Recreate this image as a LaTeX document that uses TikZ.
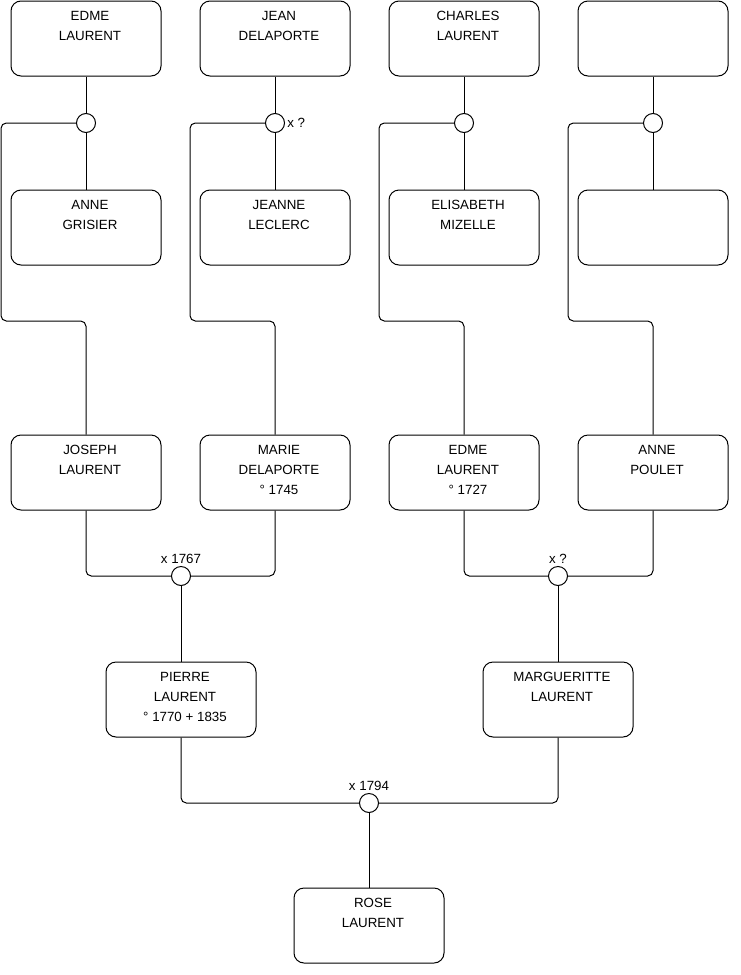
\documentclass[tikz,border=0pt]{standalone}
\usepackage{fontspec}
\setmainfont{Liberation Sans}

\tikzset{
  person/.style={draw, rounded corners=7.5pt, inner sep=0pt, line width=0.75pt},
  wed/.style={draw, circle, fill=white, minimum size=14.25pt, inner sep=0pt, line width=0.75pt},
  link/.style={line width=0.75pt, rounded corners=4pt},
  note/.style={font=\fontsize{10}{11}\selectfont, inner sep=1.5pt}
}
\newcommand{\who}[1]{\hspace*{6pt}\parbox[c][56.25pt][t]{106.5pt}{\centering\fontsize{10}{15}\selectfont\rule{0pt}{14.8pt}#1}}

\begin{document}
\begin{tikzpicture}[x=0.75pt,y=-0.75pt]
\useasboundingbox (0,0) rectangle (740,975);

% =========================
% great-grandparents
% =========================
\node[person] (edme)    at (86,38.5)  {\who{EDME\\LAURENT}};
\node[person] (jean)    at (275,38.5) {\who{JEAN\\DELAPORTE}};
\node[person] (charles) at (464,38.5) {\who{CHARLES\\LAURENT}};
\node[person] (blanka)  at (653,38.5) {\who{}};

\node[person] (anneg)   at (86,227.5)  {\who{ANNE\\GRISIER}};
\node[person] (jeanne)  at (275,227.5) {\who{JEANNE\\LECLERC}};
\node[person] (elisa)   at (464,227.5) {\who{ELISABETH\\MIZELLE}};
\node[person] (blankb)  at (653,227.5) {\who{}};

% weddings
\node[wed] (w1) at (86,123) {};
\node[wed, label={[note]right:x ?}] (w2) at (275,123) {};
\node[wed] (w3) at (464,123) {};
\node[wed] (w4) at (653,123) {};

\draw[link] (edme.south) -- (w1.north);
\draw[link] (w1.south) -- (anneg.north);
\draw[link] (jean.south) -- (w2.north);
\draw[link] (w2.south) -- (jeanne.north);
\draw[link] (charles.south) -- (w3.north);
\draw[link] (w3.south) -- (elisa.north);
\draw[link] (blanka.south) -- (w4.north);
\draw[link] (w4.south) -- (blankb.north);

% =========================
% grandparents
% =========================
\node[person] (joseph) at (86,472.5)  {\who{JOSEPH\\LAURENT}};
\node[person] (marie)  at (275,472.5) {\who{MARIE\\DELAPORTE\\° 1745}};
\node[person] (edmeb)  at (464,472.5) {\who{EDME\\LAURENT\\° 1727}};
\node[person] (annep)  at (653,472.5) {\who{ANNE\\POULET}};

% children lines
\draw[link] (w1.west) -| (1,321) -| (joseph.north);
\draw[link] (w2.west) -| (190,321) -| (marie.north);
\draw[link] (w3.west) -| (379,321) -| (edmeb.north);
\draw[link] (w4.west) -| (568,321) -| (annep.north);

\node[wed, label={[note]above:x 1767}] (w5) at (181,576) {};
\node[wed, label={[note]above:x ?}]    (w6) at (558,576) {};

\draw[link] (joseph.south) |- (w5.west);
\draw[link] (marie.south) |- (w5.east);
\draw[link] (edmeb.south) |- (w6.west);
\draw[link] (annep.south) |- (w6.east);

% =========================
% parents
% =========================
\node[person] (pierre) at (181,699.5) {\who{PIERRE\\LAURENT\\° 1770 + 1835}};
\node[person] (marg)   at (558,699.5) {\who{MARGUERITTE\\LAURENT}};

\draw[link] (w5.south) -- (pierre.north);
\draw[link] (w6.south) -- (marg.north);

\node[wed, label={[note]above:x 1794}] (w7) at (369,803) {};

\draw[link] (pierre.south) |- (w7.west);
\draw[link] (marg.south) |- (w7.east);

% =========================
% child
% =========================
\node[person] (rose) at (369,925.5) {\who{ROSE\\LAURENT}};

\draw[link] (w7.south) -- (rose.north);

\end{tikzpicture}
\end{document}
